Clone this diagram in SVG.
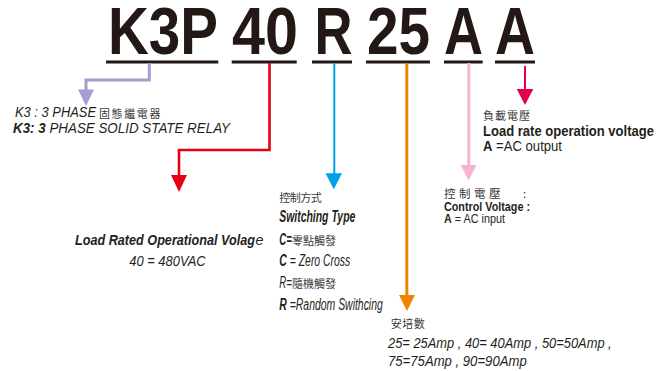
<svg xmlns="http://www.w3.org/2000/svg" width="665" height="371" viewBox="0 0 665 371">
<style>
.big{font-family:"Liberation Sans",Arial,sans-serif;font-weight:bold;font-size:66px;fill:#231815}
.t{font-family:"Liberation Sans",Arial,sans-serif;fill:#231f20}
.i{font-style:italic}
.b{font-weight:bold}
.n{font-weight:normal}
.zh{font-family:"Noto Sans CJK TC","Noto Sans CJK SC",sans-serif;fill:#3a3a3a;font-weight:normal;font-style:normal}
.ul{fill:#231815}
.ln{fill:none}
</style>
<rect width="665" height="371" fill="#ffffff"/>
<g id="code">
  <g id="seg-k3p"><text class="big" x="108" y="53.5" textLength="110" lengthAdjust="spacingAndGlyphs">K3P</text><rect class="ul" x="106" y="60.5" width="112.3" height="3"/></g>
  <g id="seg-40"><text class="big" x="232" y="53.5" textLength="66" lengthAdjust="spacingAndGlyphs">40</text><rect class="ul" x="231.7" y="60.5" width="65" height="3"/></g>
  <g id="seg-r"><text class="big" x="314.5" y="53.5" textLength="38" lengthAdjust="spacingAndGlyphs">R</text><rect class="ul" x="312" y="60.5" width="40" height="3"/></g>
  <g id="seg-25"><text class="big" x="367" y="53.5" textLength="63" lengthAdjust="spacingAndGlyphs">25</text><rect class="ul" x="366" y="60.5" width="64" height="3"/></g>
  <g id="seg-a1"><text class="big" x="444" y="53.5" textLength="39" lengthAdjust="spacingAndGlyphs">A</text><rect class="ul" x="444" y="60.5" width="38.7" height="3"/></g>
  <g id="seg-a2"><text class="big" x="495" y="53.5" textLength="40" lengthAdjust="spacingAndGlyphs">A</text><rect class="ul" x="495" y="60.5" width="40" height="3"/></g>
</g>
<g id="connectors">
  <path class="ln" d="M149.3,63 V80 H86 V91" stroke="#a99cd2" stroke-width="3"/>
  <polygon points="78,89.5 94,89.5 86,106" fill="#a99cd2"/>
  <path class="ln" d="M269.5,63 V150 H179 V176" stroke="#e60012" stroke-width="2.6"/>
  <polygon points="171,175 187,175 179,192" fill="#e60012"/>
  <path class="ln" d="M334.3,63 V174" stroke="#00a0e9" stroke-width="2"/>
  <polygon points="325.5,173.3 342,173.3 333.8,189.3" fill="#00a0e9"/>
  <path class="ln" d="M406.8,63 V296" stroke="#f08300" stroke-width="3"/>
  <polygon points="399,295 415,295 407,311" fill="#f08300"/>
  <path class="ln" d="M468.8,63 V166" stroke="#f5b4d2" stroke-width="3"/>
  <polygon points="460.7,165 476.5,165 468.6,180.5" fill="#f5b4d2"/>
  <path class="ln" d="M525,66 V90" stroke="#e5004f" stroke-width="2"/>
  <polygon points="516.7,89 533.3,89 525,105" fill="#e5004f"/>
</g>
<g id="node-phase">
  <text class="t i" x="15" y="117.3" font-size="14" textLength="81" lengthAdjust="spacingAndGlyphs">K3 : 3 PHASE</text>
  <text class="zh" x="99" y="117.5" font-size="11" letter-spacing="1.6">固態繼電器</text>
  <text class="t i" x="13" y="133.3" font-size="14" textLength="217" lengthAdjust="spacingAndGlyphs"><tspan class="b">K3: 3</tspan>  PHASE SOLID STATE RELAY</text>
</g>
<g id="node-voltage">
  <text class="t i b" x="75" y="245" font-size="15" textLength="180" lengthAdjust="spacingAndGlyphs">Load Rated Operational Volag</text>
  <text class="t i" x="255.5" y="245" font-size="15" textLength="8" lengthAdjust="spacingAndGlyphs">e</text>
  <text class="t i" x="129.3" y="266" font-size="15" textLength="76.4" lengthAdjust="spacingAndGlyphs">40 = 480VAC</text>
</g>
<g id="node-switching">
  <text class="zh" x="279.3" y="202" font-size="11" letter-spacing="-0.5">控制方式</text>
  <text class="t i b" x="279.3" y="221.7" font-size="16" textLength="76" lengthAdjust="spacingAndGlyphs">Switching Type</text>
  <text class="t i b" x="279.3" y="245" font-size="16" textLength="12.5" lengthAdjust="spacingAndGlyphs">C=</text>
  <text class="zh" x="292" y="245" font-size="11">零點觸發</text>
  <text class="t i" x="279.3" y="266" font-size="16" textLength="71" lengthAdjust="spacingAndGlyphs"><tspan class="b">C</tspan> = Zero Cross</text>
  <text class="t i" x="279.3" y="288.3" font-size="16" textLength="12.5" lengthAdjust="spacingAndGlyphs">R=</text>
  <text class="zh" x="292" y="288.3" font-size="11">隨機觸發</text>
  <text class="t i" x="279.3" y="310" font-size="16" textLength="103.5" lengthAdjust="spacingAndGlyphs"><tspan class="b">R</tspan> =Random Swithcing</text>
</g>
<g id="node-amp">
  <text class="zh" x="390.7" y="327.5" font-size="11" letter-spacing="0.5">安培數</text>
  <text class="t i" x="388" y="348.3" font-size="15" textLength="223.7" lengthAdjust="spacingAndGlyphs">25= 25Amp , 40= 40Amp , 50=50Amp ,</text>
  <text class="t i" x="388" y="365.7" font-size="15" textLength="138.7" lengthAdjust="spacingAndGlyphs">75=75Amp  , 90=90Amp</text>
</g>
<g id="node-control">
  <text class="zh" x="444" y="197.5" font-size="11.5" letter-spacing="3.5">控制電壓</text>
  <text class="zh" x="523" y="197.5" font-size="11.5">:</text>
  <text class="t b" x="444" y="211" font-size="12" textLength="86" lengthAdjust="spacingAndGlyphs">Control Voltage :</text>
  <text class="t" x="444" y="223.3" font-size="12" textLength="61" lengthAdjust="spacingAndGlyphs"><tspan class="b">A</tspan> = AC input</text>
</g>
<g id="node-load">
  <text class="zh" x="483" y="120" font-size="11" letter-spacing="1">負載電壓</text>
  <text class="t b" x="483" y="135.5" font-size="14.5" textLength="171" lengthAdjust="spacingAndGlyphs">Load rate operation voltage</text>
  <text class="t" x="483" y="151" font-size="14" textLength="79" lengthAdjust="spacingAndGlyphs"><tspan class="b">A</tspan> =AC output</text>
</g>
</svg>
